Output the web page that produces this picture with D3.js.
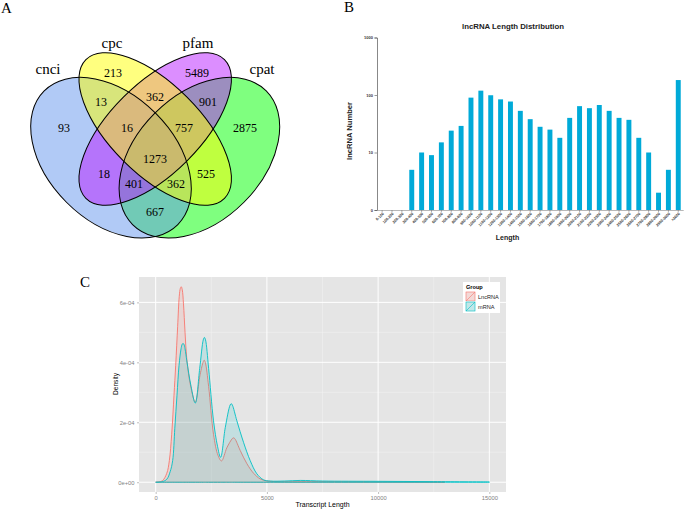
<!DOCTYPE html>
<html lang="en">
<head>
<meta charset="utf-8">
<script src="https://cdn.jsdelivr.net/npm/d3@7"></script>
<style>
	body { margin: 0; background: #fff; }
	svg { display: block; font-family: "Liberation Sans", Arial, sans-serif; }
	.serif { font-family: "Liberation Serif", "Times New Roman", serif; }
</style>
</head>
<body>
<script>
// ---- A: venn of the four coding-potential tools
var vennSets = ["cnci", "cpc", "pfam", "cpat"];
var vennColors = ["#6495ED", "#FFFF00", "#B91EFF", "#00FF00"];
var vennRegions = ["cnci", "cpc", "pfam", "cpat", "cnci&cpc", "cpc&pfam", "pfam&cpat",
	"cnci&cpc&pfam", "cpc&pfam&cpat", "all", "cnci&pfam", "cpc&cpat",
	"cnci&pfam&cpat", "cnci&cpc&cpat", "cnci&cpat"];
var vennCounts = [93, 213, 5489, 2875, 13, 362, 901, 16, 757, 1273, 18, 525, 401, 362, 667];

// ---- B: lncRNA length bins (log scale)
var lenBins = ["0-100", "100-200", "200-300", "300-400", "400-500", "500-600", "600-700",
	"700-800", "800-900", "900-1000", "1000-1100", "1100-1200", "1200-1300", "1300-1400",
	"1400-1500", "1500-1600", "1600-1700", "1700-1800", "1800-1900", "1900-2000",
	"2000-2100", "2100-2200", "2200-2300", "2300-2400", "2400-2500", "2500-2600",
	"2600-2700", "2700-2800", "2800-2900", "2900-3000", ">3000"];
var lenCounts = [0, 0, 0, 5, 10, 9, 15, 24, 29, 90, 119, 99, 84, 77, 53, 38, 28, 25, 18,
	40, 64, 59, 67, 53, 40, 37, 18, 10, 2, 5, 182];
var lenTicks = [1, 10, 100, 1000];
var lenTickLabels = ["0", "10", "100", "1000"];

// ---- C: transcript length density
var groups = ["LncRNA", "mRNA"];
var groupColors = ["#F8766D", "#00BFC4"];
var lncLen = [0, 300, 500, 614, 720, 823, 900, 988, 1060, 1110, 1150, 1195, 1250, 1320,
	1400, 1560, 1780, 2000, 2140, 2180, 2230, 2380, 2600, 2800, 2960, 3200, 3450, 3500,
	3560, 3800, 4100, 4400, 4700, 5000, 5500, 7000, 10000, 13000];
var lncDens = [0, 0.05e-4, 0.3e-4, 0.72e-4, 1.6e-4, 2.9e-4, 3.9e-4, 5.2e-4, 6.2e-4,
	6.47e-4, 6.52e-4, 6.42e-4, 5.95e-4, 5.0e-4, 4.1e-4, 3.25e-4, 2.67e-4, 3.6e-4, 4.02e-4,
	4.07e-4, 4.0e-4, 3.2e-4, 1.6e-4, 0.9e-4, 0.71e-4, 1.15e-4, 1.46e-4, 1.48e-4, 1.45e-4,
	1.06e-4, 0.62e-4, 0.3e-4, 0.11e-4, 0.04e-4, 0.02e-4, 0.02e-4, 0.01e-4, 0];
var mrnaLen = [0, 300, 500, 650, 763, 860, 958, 1050, 1140, 1190, 1228, 1270, 1320, 1400,
	1590, 1780, 1980, 2140, 2190, 2240, 2380, 2600, 2780, 2920, 3130, 3350, 3400, 3450,
	3650, 3950, 4250, 4550, 4850, 5150, 5800, 6500, 7500, 10000, 12500, 15000];
var mrnaDens = [0, 0.02e-4, 0.1e-4, 0.35e-4, 0.72e-4, 1.8e-4, 2.9e-4, 3.9e-4, 4.45e-4,
	4.6e-4, 4.63e-4, 4.6e-4, 4.45e-4, 4.05e-4, 3.2e-4, 2.64e-4, 3.8e-4, 4.75e-4, 4.83e-4,
	4.75e-4, 3.8e-4, 2.05e-4, 1.2e-4, 0.83e-4, 1.83e-4, 2.58e-4, 2.62e-4, 2.57e-4,
	2.05e-4, 1.33e-4, 0.72e-4, 0.28e-4, 0.08e-4, 0.04e-4, 0.04e-4, 0.06e-4, 0.04e-4,
	0.03e-4, 0.02e-4, 0.01e-4];
var densXTicks = [0, 5000, 10000, 15000];
var densXMinor = [2500, 7500, 12500];
var densYTicks = [0, 2e-4, 4e-4, 6e-4];
var densYLabels = ["0e+00", "2e-04", "4e-04", "6e-04"];
var densYMinor = [1e-4, 3e-4, 5e-4];

var w = 685, h = 509;
var svg = d3.select("body").append("svg")
	.attr("width", w)
	.attr("height", h);
svg.append("rect").attr("width", w).attr("height", h).attr("fill", "#fff");

// panel letters
[["A", 1, 13], ["B", 344, 12], ["C", 80, 287]].forEach(function(p) {
	svg.append("text").attr("class", "serif")
		.attr("x", p[1]).attr("y", p[2])
		.attr("font-size", 15)
		.text(p[0]);
});

// ================= A =================
var gA = svg.append("g");
// ellipse layout; drawing order cpat, cnci, pfam, cpc (as in the picture)
var ell = {
	cnci: {cx: 111, cy: 157.7, rx: 94.5, ry: 63, rot: 45},
	cpc:  {cx: 155.2, cy: 129, rx: 98, ry: 45, rot: 45},
	pfam: {cx: 155.2, cy: 129, rx: 98, ry: 45, rot: -45},
	cpat: {cx: 199.4, cy: 157.7, rx: 94.5, ry: 63, rot: -45}
};
var drawOrder = ["cpat", "cnci", "pfam", "cpc"];
function ellTransform(d) {
	return "translate(" + ell[d].cx + "," + ell[d].cy + ") rotate(" + ell[d].rot + ")";
}
gA.selectAll("ellipse.fill")
	.data(drawOrder)
	.enter()
	.append("ellipse")
	.attr("class", "fill")
	.attr("rx", function(d) { return ell[d].rx; })
	.attr("ry", function(d) { return ell[d].ry; })
	.attr("transform", ellTransform)
	.attr("fill", function(d) { return vennColors[vennSets.indexOf(d)]; })
	.attr("fill-opacity", 0.5);
gA.selectAll("ellipse.line")
	.data(drawOrder)
	.enter()
	.append("ellipse")
	.attr("class", "line")
	.attr("rx", function(d) { return ell[d].rx; })
	.attr("ry", function(d) { return ell[d].ry; })
	.attr("transform", ellTransform)
	.attr("fill", "none")
	.attr("stroke", "#000")
	.attr("stroke-width", 1);

var regionPos = {
	"cnci": [64, 128], "cpc": [113, 73], "pfam": [197, 73], "cpat": [245, 128],
	"cnci&cpc": [101, 102], "cpc&pfam": [155, 97], "pfam&cpat": [208, 102],
	"cnci&cpc&pfam": [127, 128], "cpc&pfam&cpat": [184, 128], "all": [155, 159],
	"cnci&pfam": [104, 174], "cpc&cpat": [206, 174], "cnci&pfam&cpat": [134, 184],
	"cnci&cpc&cpat": [176, 184], "cnci&cpat": [155, 212]
};
gA.selectAll("text.count")
	.data(vennRegions)
	.enter()
	.append("text")
	.attr("class", "serif")
	.attr("x", function(d) { return regionPos[d][0]; })
	.attr("y", function(d) { return regionPos[d][1] + 4; })
	.attr("text-anchor", "middle")
	.attr("font-size", 12)
	.text(function(d, i) { return vennCounts[i]; });

var setLabelPos = {cnci: [48, 74], cpc: [112, 48], pfam: [198, 48], cpat: [262, 74]};
gA.selectAll("text.set")
	.data(vennSets)
	.enter()
	.append("text")
	.attr("class", "serif")
	.attr("x", function(d) { return setLabelPos[d][0]; })
	.attr("y", function(d) { return setLabelPos[d][1]; })
	.attr("text-anchor", "middle")
	.attr("font-size", 15)
	.text(function(d) { return d; });

// ================= B =================
var gB = svg.append("g");
var xB = d3.scaleBand().domain(lenBins).range([377.2, 683.2]).paddingInner(0.5).paddingOuter(0.25);
var yB = d3.scaleLog().domain([1, 1000]).range([210, 37.5]);

gB.selectAll("rect.bar")
	.data(lenBins.map(function(b, i) { return {bin: b, n: lenCounts[i]}; }).filter(function(d) { return d.n > 0; }))
	.enter()
	.append("rect")
	.attr("class", "bar")
	.attr("x", function(d) { return xB(d.bin); })
	.attr("width", xB.bandwidth())
	.attr("y", function(d) { return yB(d.n); })
	.attr("height", function(d) { return yB(1) - yB(d.n); })
	.attr("fill", "#00AAD8");

var yAxisB = gB.append("g")
	.attr("transform", "translate(377,0)")
	.call(d3.axisLeft(yB).tickValues(lenTicks).tickSize(2.5).tickFormat(function(d, i) { return lenTickLabels[i]; }));
yAxisB.select(".domain").attr("stroke", "#555").attr("stroke-width", 0.7);
yAxisB.selectAll(".tick line").attr("stroke", "#555").attr("stroke-width", 0.6);
yAxisB.selectAll(".tick text").attr("font-size", 4).attr("font-weight", "bold").attr("fill", "#333").attr("x", -4);

var xAxisB = gB.append("g")
	.attr("transform", "translate(0,210)")
	.call(d3.axisBottom(xB).tickSize(2).tickSizeOuter(0));
xAxisB.select(".domain").attr("stroke", "#888").attr("stroke-width", 0.6);
xAxisB.selectAll(".tick line").attr("stroke", "#666").attr("stroke-width", 0.5);
xAxisB.selectAll(".tick text")
	.attr("font-size", 3.8)
	.attr("font-weight", "bold")
	.attr("fill", "#333")
	.attr("text-anchor", "end")
	.attr("dy", 0)
	.attr("transform", "translate(2,4) rotate(-45)")
	.attr("y", 0).attr("x", 0);

gB.append("text")
	.attr("x", 513).attr("y", 28.5)
	.attr("text-anchor", "middle")
	.attr("font-size", 7.8)
	.attr("font-weight", "bold")
	.attr("fill", "#222")
	.text("lncRNA Length Distribution");
gB.append("text")
	.attr("transform", "translate(351.5,131) rotate(-90)")
	.attr("text-anchor", "middle")
	.attr("font-size", 7.6)
	.attr("font-weight", "bold")
	.attr("fill", "#222")
	.text("lncRNA Number");
gB.append("text")
	.attr("x", 507.5).attr("y", 240)
	.attr("text-anchor", "middle")
	.attr("font-size", 7)
	.attr("font-weight", "bold")
	.attr("fill", "#222")
	.text("Length");

// ================= C =================
var gC = svg.append("g");
var xC = d3.scaleLinear().domain([-750, 15750]).range([139, 506]);
var yC = d3.scaleLinear().domain([-0.326e-4, 6.846e-4]).range([492, 277]);

gC.append("rect")
	.attr("x", 139).attr("y", 277)
	.attr("width", 367).attr("height", 215)
	.attr("fill", "#E5E5E5");

gC.selectAll("line.xminor").data(densXMinor).enter().append("line")
	.attr("x1", xC).attr("x2", xC).attr("y1", 277).attr("y2", 492)
	.attr("stroke", "#F2F2F2").attr("stroke-width", 0.5);
gC.selectAll("line.yminor").data(densYMinor).enter().append("line")
	.attr("y1", yC).attr("y2", yC).attr("x1", 139).attr("x2", 506)
	.attr("stroke", "#F2F2F2").attr("stroke-width", 0.5);
gC.selectAll("line.xmajor").data(densXTicks).enter().append("line")
	.attr("x1", xC).attr("x2", xC).attr("y1", 277).attr("y2", 492)
	.attr("stroke", "#fff").attr("stroke-width", 1);
gC.selectAll("line.ymajor").data(densYTicks).enter().append("line")
	.attr("y1", yC).attr("y2", yC).attr("x1", 139).attr("x2", 506)
	.attr("stroke", "#fff").attr("stroke-width", 1);

var area = d3.area()
	.x(function(d) { return xC(d[0]); })
	.y0(yC(0))
	.y1(function(d) { return yC(Math.max(0, d[1])); })
	.curve(d3.curveCatmullRom.alpha(0.5));
var series = [
	d3.zip(lncLen, lncDens),
	d3.zip(mrnaLen, mrnaDens)
];
gC.selectAll("path.dens")
	.data(series)
	.enter()
	.append("path")
	.attr("class", "dens")
	.attr("d", area)
	.attr("fill", function(d, i) { return groupColors[i]; })
	.attr("fill-opacity", 0.15)
	.attr("stroke", function(d, i) { return groupColors[i]; })
	.attr("stroke-width", 0.9);

var xAxisC = gC.append("g")
	.attr("transform", "translate(0,492)")
	.call(d3.axisBottom(xC).tickValues(densXTicks).tickSize(2).tickSizeOuter(0).tickFormat(d3.format("d")));
xAxisC.select(".domain").remove();
xAxisC.selectAll(".tick line").attr("stroke", "#7F7F7F").attr("stroke-width", 0.5);
xAxisC.selectAll(".tick text").attr("font-size", 5.8).attr("fill", "#7F7F7F").attr("y", 3.5);

var yAxisC = gC.append("g")
	.attr("transform", "translate(139,0)")
	.call(d3.axisLeft(yC).tickValues(densYTicks).tickSize(2).tickSizeOuter(0).tickFormat(function(d, i) { return densYLabels[i]; }));
yAxisC.select(".domain").remove();
yAxisC.selectAll(".tick line").attr("stroke", "#7F7F7F").attr("stroke-width", 0.5);
yAxisC.selectAll(".tick text").attr("font-size", 5.8).attr("fill", "#7F7F7F").attr("x", -4.5);

gC.append("text")
	.attr("x", 322.5).attr("y", 506.5)
	.attr("text-anchor", "middle")
	.attr("font-size", 7)
	.text("Transcript Length");
gC.append("text")
	.attr("transform", "translate(118,384) rotate(-90)")
	.attr("text-anchor", "middle")
	.attr("font-size", 6.6)
	.text("Density");

// legend
var lg = gC.append("g").attr("transform", "translate(463,282)");
lg.append("rect").attr("width", 37).attr("height", 31).attr("fill", "#fff");
lg.append("text").attr("x", 3).attr("y", 6.5)
	.attr("font-size", 5.6).attr("font-weight", "bold")
	.text("Group");
groups.forEach(function(g, i) {
	var k = lg.append("g").attr("transform", "translate(2.5," + (9.5 + i * 10) + ")");
	k.append("rect").attr("width", 10).attr("height", 10).attr("fill", "#F2F2F2").attr("stroke", "#fff").attr("stroke-width", 0.5);
	k.append("rect").attr("x", 0.5).attr("y", 0.5).attr("width", 9).attr("height", 9)
		.attr("fill", groupColors[i]).attr("fill-opacity", 0.2)
		.attr("stroke", groupColors[i]).attr("stroke-width", 0.6);
	k.append("line").attr("x1", 0.5).attr("y1", 9.5).attr("x2", 9.5).attr("y2", 0.5)
		.attr("stroke", groupColors[i]).attr("stroke-width", 0.6);
	k.append("text").attr("x", 12.5).attr("y", 7)
		.attr("font-size", 5.6).attr("fill", "#222")
		.text(g);
});
</script>
</body>
</html>
